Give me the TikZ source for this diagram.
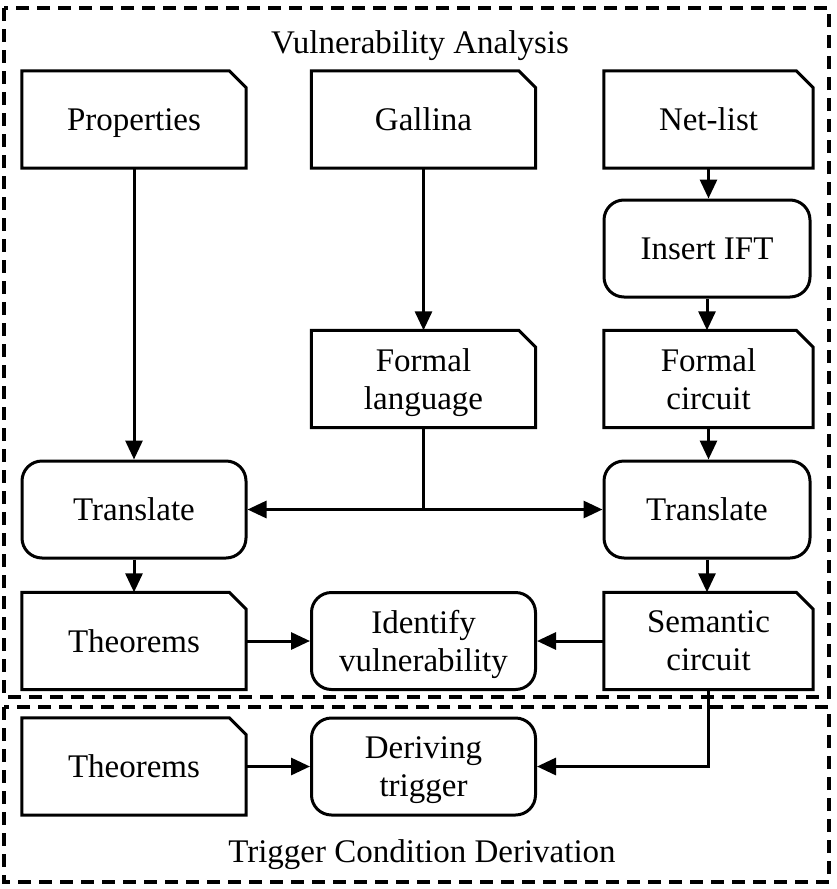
\documentclass[tikz,border=0pt]{standalone}
\usepackage{fontspec}
\setmainfont{Liberation Serif}
\usetikzlibrary{arrows.meta}
\begin{document}
\begin{tikzpicture}[x=1pt,y=-1pt,
  txt/.style={font=\fontsize{33}{38}\selectfont, align=center, text depth=0pt},
  doc/.style={txt, minimum width=224pt, minimum height=97pt, inner sep=0pt},
  docr/.style={doc, minimum width=209pt},
  rbox/.style={txt, draw, line width=3pt, rounded corners=20pt, minimum width=224pt, minimum height=97pt, inner sep=0pt},
  rboxr/.style={rbox, minimum width=206pt},
  arr/.style={line width=3pt, -{Triangle[length=19pt,width=17pt]}},
  ln/.style={line width=3pt},
  frame/.style={line width=3.5pt, dash pattern=on 13pt off 8pt}]
\useasboundingbox (0,0) rectangle (836,889);
\draw[frame] (4,8) rectangle (829,697);
\draw[frame] (4,707) rectangle (829,882);
\node[txt] (t1) at (420,42) {Vulnerability Analysis};
\node[txt] (t2) at (422,851) {Trigger Condition Derivation};

\node[doc] (pr) at (134,119.5) {Properties};
\node[doc] (ga) at (423.5,119.5) {Gallina};
\node[docr] (nl) at (708.5,119.5) {Net-list};
\node[rboxr] (ift) at (707,248.5) {Insert IFT};
\node[doc] (fl) at (423.5,379) {Formal\\language};
\node[docr] (fc) at (708.5,379) {Formal\\circuit};
\node[rbox] (tl) at (134,509.5) {Translate};
\node[rboxr] (tr) at (707,509.5) {Translate};
\node[doc] (th) at (134,641) {Theorems};
\node[rbox] (iv) at (423.5,641) {Identify\\vulnerability};
\node[docr] (sc) at (708.5,641) {Semantic\\circuit};
\node[doc] (th2) at (134,766.5) {Theorems};
\node[rbox] (dt) at (423.5,766.5) {Deriving\\trigger};

\foreach \n in {pr,ga,nl,fl,fc,th,sc,th2}{
  \draw[ln, line join=miter] (\n.south west) -- (\n.north west) -- ([xshift=-17pt]\n.north east)
    -- ([yshift=-17pt]\n.north east) -- (\n.south east) -- cycle;
}

\draw[arr] (pr.south) -- (tl.north);
\draw[arr] (ga.south) -- (fl.north);
\draw[arr] (nl.south) -- (nl.south |- ift.north);
\draw[arr] (ift.south) -- (ift.south |- fc.north);
\draw[arr] (fc.south) -- (fc.south |- tr.north);
\coordinate (j) at (fl.south |- tl.east);
\draw[ln] (fl.south) -- (j);
\draw[arr] (j) -- (tl.east);
\draw[arr] (j) -- (tr.west);
\draw[arr] (tl.south) -- (th.north);
\draw[arr] (tr.south) -- (tr.south |- sc.north);
\draw[arr] (th.east) -- (iv.west);
\draw[arr] (sc.west) -- (iv.east);
\draw[arr] (sc.south) |- (dt.east);
\draw[arr] (th2.east) -- (dt.west);
\end{tikzpicture}
\end{document}
